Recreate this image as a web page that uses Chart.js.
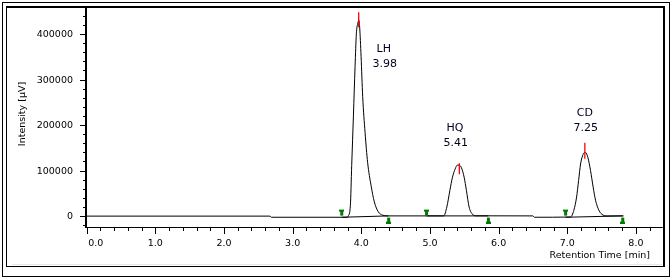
<!DOCTYPE html>
<html>
<head>
<meta charset="utf-8">
<script src="https://cdn.jsdelivr.net/npm/chart.js@4/dist/chart.umd.min.js"></script>
<style>
html,body{margin:0;padding:0;background:#fff;}
canvas{display:block;}
</style>
</head>
<body>
<canvas id="c" width="672" height="280"></canvas>
<script>
// ---- data ----
const times = [0, 2.67, 2.69, 3.80, 3.81, 3.841, 3.86, 3.885, 3.909, 3.928, 3.947, 3.965, 3.976, 3.997, 4.02, 4.055, 4.092, 4.142, 4.19, 4.248, 4.31, 4.40,
  5.20, 5.246, 5.29, 5.328, 5.367, 5.40, 5.425, 5.459, 5.498, 5.531, 5.57, 5.618, 5.668,
  6.50, 6.52, 7.048, 7.096, 7.136, 7.165, 7.194, 7.223, 7.252, 7.266, 7.30, 7.339, 7.377, 7.412, 7.46, 7.522, 7.58, 7.82];
const intensity = [0, 0, -2500, -2500, 0, 23900, 110900, 219600, 328300, 400700, 422400, 430400, 415200, 350000, 263000, 183300, 118000, 67400, 31100, 9300, 2200, 500,
  500, 20200, 56500, 85400, 103700, 112000, 112000, 106000, 85400, 56500, 20200, 4300, 700,
  500, -2500, -2000, 13000, 42000, 78300, 114600, 132600, 139800, 139800, 128900, 100000, 63700, 34800, 13000, 2200, 500, 500];
const peakNames = ['LH', 'HQ', 'CD'];
const peakRT = ['3.98', '5.41', '7.25'];
const apexTimes = [3.962, 5.428, 7.256];
const apexValues = [431500, 104300, 143500];
const startTimes = [3.715, 4.95, 6.976];
const endTimes = [4.398, 5.851, 7.808];
const baseStartValues = [-2500, 500, -2500];
const baseEndValues = [500, 500, 500];
const xTickLabels = ['0.0', '1.0', '2.0', '3.0', '4.0', '5.0', '6.0', '7.0', '8.0'];
const yTickLabels = ['0', '100000', '200000', '300000', '400000'];

// ---- build library structures ----
const signal = times.map((t, i) => ({x: t, y: intensity[i]}));
const baselines = [];
startTimes.forEach((t, i) => {
  baselines.push({x: t, y: baseStartValues[i]});
  baselines.push({x: endTimes[i], y: baseEndValues[i]});
  baselines.push({x: endTimes[i] + 0.001, y: null});
});
const startPts = startTimes.map(t => ({x: t, y: 0}));
const endPts = endTimes.map(t => ({x: t, y: 0}));
const apexPts = apexTimes.map((t, i) => ({x: t, y: apexValues[i]}));

function pin(down) {
  const c = document.createElement('canvas');
  c.width = 5; c.height = 15;
  const g = c.getContext('2d');
  g.fillStyle = '#007a00';
  if (down) { g.fillRect(0, 1, 5, 2); g.fillRect(1, 3, 3, 4); }
  else { g.fillRect(1, 9, 3, 4); g.fillRect(0, 13, 5, 2); }
  return c;
}
const pinDown = pin(true), pinUp = pin(false);

const FONT = '"DejaVu Sans", sans-serif';
const TXT = '#000';

const axesPlugin = {
  id: 'axesPlugin',
  beforeDraw(chart) {
    const ctx = chart.ctx;
    ctx.save();
    ctx.fillStyle = '#fff';
    ctx.fillRect(0, 0, chart.width, chart.height);
    ctx.restore();
  },
  afterDraw(chart) {
    const ctx = chart.ctx, xs = chart.scales.x, ys = chart.scales.y, a = chart.chartArea;
    ctx.save();
    ctx.fillStyle = '#000';
    ctx.strokeStyle = '#000';
    ctx.lineWidth = 1;
    // outer frame
    ctx.strokeRect(2.5, 2.5, 667, 274);
    // inner panel
    ctx.fillStyle = '#e8e8e8';
    ctx.fillRect(12, 264, 650, 1);
    ctx.fillStyle = '#000';
    ctx.fillRect(6, 266, 659, 1);
    ctx.fillRect(6, 6, 1, 261);
    ctx.fillRect(6, 6, 659, 2);       // top thick
    ctx.fillRect(663, 6, 2, 261);     // right thick
    ctx.fillRect(85, 7, 2, a.bottom - 7 + 1); // y axis
    ctx.fillRect(86, a.bottom, a.right - 86, 1); // x axis
    // x ticks
    for (let k = 0; k <= 41; k++) {
      const v = k * 0.2;
      const px = Math.round(xs.getPixelForValue(v));
      const major = k % 5 === 0;
      ctx.fillRect(px, a.bottom, 1, major ? 7 : 4);
    }
    // y ticks
    for (let k = -1; k <= 22; k++) {
      const v = k * 20000;
      const py = Math.round(ys.getPixelForValue(v));
      const major = k % 5 === 0;
      ctx.fillRect(major ? 80 : 83, py, major ? 6 : 3, 1);
    }
    ctx.fillStyle = TXT;
    ctx.font = '9.5px ' + FONT;
    ctx.textBaseline = 'middle';
    xTickLabels.forEach((lab, i) => {
      const px = xs.getPixelForValue(parseFloat(lab));
      if (i === 0) { ctx.textAlign = 'left'; ctx.fillText(lab, px + 1.5, 243.5); }
      else { ctx.textAlign = 'center'; ctx.fillText(lab, px, 243.5); }
    });
    ctx.textAlign = 'right';
    yTickLabels.forEach(lab => {
      const py = ys.getPixelForValue(parseFloat(lab));
      ctx.fillText(lab, 73, py + 0.5);
    });
    // axis titles
    ctx.textAlign = 'right';
    ctx.fillText('Retention Time [min]', 650, 255.5);
    ctx.save();
    ctx.translate(23, 114);
    ctx.rotate(-Math.PI / 2);
    ctx.textAlign = 'center';
    ctx.fillText('Intensity [\u00b5V]', 0, 0);
    ctx.restore();
    // peak labels
    const offs = chart.options.plugins.axesPlugin.labelOffsets;
    ctx.font = '11px ' + FONT;
    ctx.textAlign = 'center';
    ctx.fillStyle = '#000020';
    peakNames.forEach((n, i) => {
      const px = xs.getPixelForValue(apexTimes[i]);
      const py = ys.getPixelForValue(apexValues[i]);
      const o = offs[i];
      ctx.fillText(n, px + o.dx, py + o.dy);
      ctx.fillText(peakRT[i], px + o.dx + 1, py + o.dy + 15);
    });
    ctx.restore();
  }
};

new Chart(document.getElementById('c'), {
  type: 'line',
  data: {
    datasets: [
      {data: signal, borderColor: '#000', borderWidth: 1, pointRadius: 0, cubicInterpolationMode: 'monotone', order: 3},
      {data: baselines, borderColor: '#000', borderWidth: 1, pointRadius: 0, spanGaps: false, order: 4},
      {data: startPts, showLine: false, pointStyle: pinDown, pointRadius: 4, order: 2},
      {data: endPts, showLine: false, pointStyle: pinUp, pointRadius: 4, order: 2},
      {data: apexPts, showLine: false, pointStyle: 'line', rotation: 90, pointRadius: [7.5, 5.5, 8], borderColor: '#ff0000', pointBorderColor: '#ff0000', pointBorderWidth: 1.3, order: 1}
    ]
  },
  options: {
    responsive: false,
    animation: false,
    devicePixelRatio: 1,
    layout: {padding: {left: 86, top: 7, right: 8, bottom: 53}},
    scales: {
      x: {type: 'linear', min: -0.01, max: 8.39, display: false},
      y: {type: 'linear', min: -23900, max: 454300, display: false}
    },
    plugins: {
      legend: {display: false},
      tooltip: {enabled: false},
      axesPlugin: {labelOffsets: [{dx: 25, dy: 29}, {dx: -4.5, dy: -40}, {dx: 0, dy: -38}]}
    }
  },
  plugins: [axesPlugin]
});
</script>
</body>
</html>
